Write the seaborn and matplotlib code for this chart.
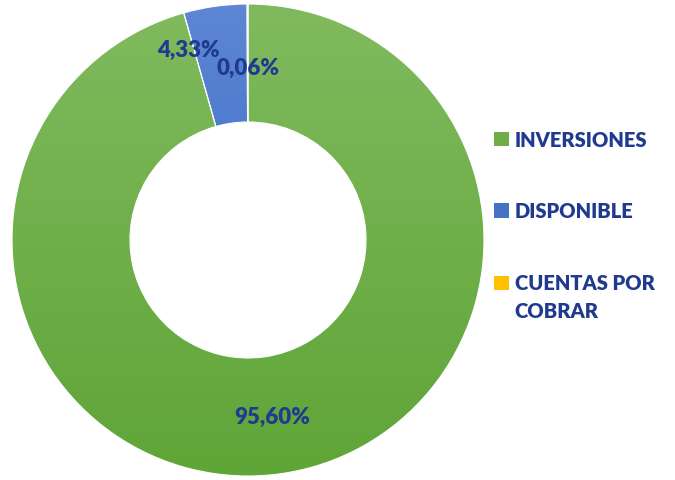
import numpy as np
import matplotlib
matplotlib.use("Agg")
import matplotlib.pyplot as plt
from matplotlib.colors import LinearSegmentedColormap
import seaborn as sns

# data
categorias = ["INVERSIONES", "DISPONIBLE", "CUENTAS POR\nCOBRAR"]
porcentajes = [95.60, 4.33, 0.06]
etiquetas = ["95,60%", "4,33%", "0,06%"]
colores = ["#70AD47", "#4472C4", "#FFC000"]
# top / bottom shades for the gradient fill
tonos = [("#80BA5E", "#5FA537"), ("#5D87D5", "#2C5CBE"), ("#FFD24D", "#F0B400")]

sns.set_theme(style="white")
plt.rcParams['font.family'] = ['Lato', 'DejaVu Sans']
azul_texto = "#1F3A8F"

fig = plt.figure(figsize=(6.75, 4.81), dpi=100)
ax = fig.add_axes([12/675, 4/481, 472/675, 472/481])

wedges, _ = ax.pie(porcentajes, colors=colores, startangle=90, counterclock=False,
                   wedgeprops=dict(width=0.5, edgecolor="white", linewidth=0.8))

# vertical gradient inside each slice
grad = np.linspace(1, 0, 256).reshape(-1, 1)
for w, (arriba, abajo) in zip(wedges, tonos):
    cmap = LinearSegmentedColormap.from_list("g", [abajo, arriba])
    im = ax.imshow(grad, cmap=cmap, extent=(-1, 1, -1, 1), aspect="auto",
                   origin="upper", zorder=w.get_zorder() - 0.1)
    im.set_clip_path(w)
    w.set_facecolor("none")

ax.set_xlim(-1, 1)
ax.set_ylim(-1, 1)
ax.set_aspect("equal")
ax.axis("off")

# label positions (data coords) as in the reference
pos_etiquetas = [(0.102, -0.746), (-0.254, 0.809), (0.0, 0.733)]
for txt, (x, y) in zip(etiquetas, pos_etiquetas):
    ax.text(x, y, txt, ha="center", va="center", fontsize=16, fontweight="heavy",
            color=azul_texto, zorder=5)

leg = fig.legend(wedges, categorias, loc="upper left", bbox_to_anchor=(494/675, 1 - 131/481),
                 frameon=False, labelspacing=2.6, handlelength=0.72,
                 handleheight=0.72, handletextpad=0.3, borderaxespad=0, borderpad=0,
                 prop=dict(weight="heavy", size=14.5))
for t in leg.get_texts():
    t.set_color(azul_texto)
    t.set_linespacing(1.6)
for h, c in zip(leg.legend_handles, colores):
    h.set_facecolor(c)
    h.set_edgecolor("none")
# two-line entry: keep the square beside the first line
leg.legend_handles[2].set_y(leg.legend_handles[2].get_y() + 10.5)

fig.savefig("out.png", dpi=100)
